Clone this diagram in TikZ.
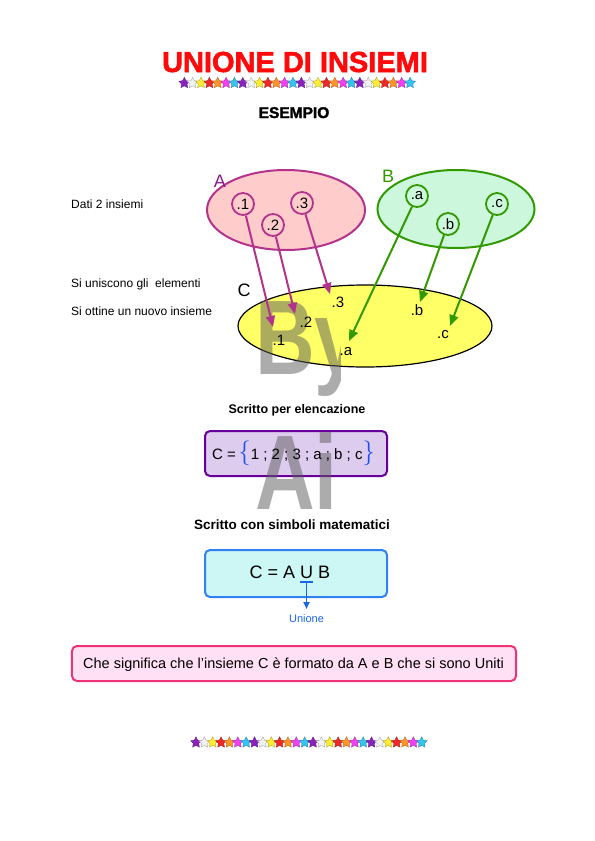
\documentclass[tikz,border=0pt]{standalone}
\usepackage{fontspec}
\setmainfont{Liberation Sans}
\newfontfamily\heavyfont[FakeBold=2]{Liberation Sans Bold}
\usepackage{tikz}
\usetikzlibrary{shapes.geometric, arrows.meta, positioning}

\definecolor{titlered}{HTML}{FF0A0A}
\definecolor{setApink}{HTML}{FFCCCC}
\definecolor{setAline}{HTML}{B3338C}
\definecolor{labApurple}{HTML}{8B1A8B}
\definecolor{setBgreen}{HTML}{CCF7DC}
\definecolor{setBline}{HTML}{339900}
\definecolor{setCyellow}{HTML}{FFFF66}
\definecolor{boxlilac}{HTML}{DDCCEE}
\definecolor{boxviolet}{HTML}{660099}
\definecolor{boxcyan}{HTML}{CCF7F5}
\definecolor{boxblue}{HTML}{3380F0}
\definecolor{boxpink}{HTML}{FFE0F4}
\definecolor{boxrose}{HTML}{EE3377}
\definecolor{braceblue}{HTML}{1E50F0}
\definecolor{uniblue}{HTML}{1A66E6}
\definecolor{wmgray}{HTML}{5A5A5A}
\definecolor{stpurple}{HTML}{8A22C0}
\definecolor{stwhite}{HTML}{F2F2F2}
\definecolor{styellow}{HTML}{FFEE33}
\definecolor{stred}{HTML}{F02828}
\definecolor{storange}{HTML}{FF9428}
\definecolor{stmagenta}{HTML}{F040F0}
\definecolor{stcyan}{HTML}{33C4F0}

\newcommand{\fsz}[1]{\fontsize{#1bp}{#1bp}\selectfont}
\newcommand{\bluebrace}[1]{{\color{braceblue}\fsz{23}$#1$}}

\tikzset{
  starmark/.style={star, star points=5, star point ratio=2.0, minimum size=11.5bp, inner sep=0pt, line width=0.3bp},
  plain/.style={inner sep=0pt, font=\fsz{12}},
  setA/.style={ellipse, draw=setAline, fill=setApink, line width=2bp, minimum width=158bp, minimum height=80bp},
  setB/.style={ellipse, draw=setBline, fill=setBgreen, line width=2bp, minimum width=157bp, minimum height=78bp},
  setC/.style={ellipse, draw=black, fill=setCyellow, line width=1.2bp, minimum width=254bp, minimum height=82bp},
  elemA/.style={circle, draw=setAline, fill=setApink, line width=1.8bp, minimum size=22bp, inner sep=0pt, font=\fsz{15}},
  elemB/.style={circle, draw=setBline, fill=setBgreen, line width=1.8bp, minimum size=22bp, inner sep=0pt, font=\fsz{15}},
  elemC/.style={inner sep=0pt, font=\fsz{15}},
  arrA/.style={draw=setAline, line width=2bp, -{Triangle[length=11bp,width=9bp]}},
  arrB/.style={draw=setBline, line width=2bp, -{Triangle[length=11bp,width=9bp]}},
  roundbox/.style={rectangle, rounded corners=5bp, line width=2bp},
  wmark/.style={inner sep=0pt, font=\bfseries\fsz{106}, text=wmgray, opacity=0.5, xscale=0.78}
}

\begin{document}
\begin{tikzpicture}[x=1bp, y=-1bp]
  \useasboundingbox (0,0) rectangle (595,841);

  \node[anchor=base, inner sep=0pt, font=\heavyfont\fsz{29}, text=titlered] (title) at (295,72) {UNIONE DI INSIEMI};
  \def\xstep{8.36}
  \foreach \r in {0,...,3}
    \foreach \c [count=\j from 0] in {stpurple,stwhite,styellow,stred,storange,stmagenta,stcyan}
    {
      \node[starmark, fill=\c, draw=\c!65!black] (ts-\r-\j) at ({184.3+\xstep*(7*\r+\j)},83) {};
      \node[starmark, fill=\c, draw=\c!65!black] (bs-\r-\j) at ({196+\xstep*(7*\r+\j)},742.5) {};
    }
  \node[anchor=base, inner sep=0pt, font=\heavyfont\fsz{15.5}] (esempio) at (294,118) {ESEMPIO};

  \node[plain, anchor=base west] (dati) at (71,208) {Dati 2 insiemi};
  \node[plain, anchor=base west] (unisc) at (71,287) {Si uniscono gli~ elementi};
  \node[plain, anchor=base west] (ottine) at (71,315) {Si ottine un nuovo insieme};

  \node[setA] (A) at (286,210) {};
  \node[font=\fsz{18}, text=labApurple, inner sep=0pt] (labA) at (220,181) {A};
  \node[elemA] (a1) at (243,204) {.1};
  \node[elemA] (a2) at (273,225) {.2};
  \node[elemA] (a3) at (302,203) {.3};

  \node[setB] (B) at (456,209) {};
  \node[font=\fsz{18}, text=setBline, inner sep=0pt] (labB) at (388,176) {B};
  \node[elemB] (ba) at (417,196) {.a};
  \node[elemB] (bb) at (448,224) {.b};
  \node[elemB] (bc) at (497,204) {.c};

  \node[setC] (C) at (365,326) {};
  \node[roundbox, draw=boxviolet, fill=boxlilac, minimum width=182bp, minimum height=45bp] (elenco) at (296,453.5) {};
  \node[roundbox, draw=boxblue, fill=boxcyan, minimum width=182bp, minimum height=47bp] (simboli) at (296,573.5) {};
  \node[roundbox, draw=boxrose, fill=boxpink, minimum width=444bp, minimum height=35bp] (nota) at (294,663.5) {};

  \begin{scope}
    \clip (250,285) rectangle (340,520);
    \node[wmark, anchor=base west] (wmby) at (255,374) {By};
    \node[wmark, anchor=base west] (wmai) at (255,509) {Ai};
  \end{scope}

  \node[font=\fsz{18}, inner sep=0pt] (labC) at (244,290) {C};
  \node[elemC] (c3) at (338,302) {.3};
  \node[elemC] (c2) at (306,322) {.2};
  \node[elemC] (c1) at (279,340) {.1};
  \node[elemC] (ca) at (346,352) {.a};
  \node[elemC] (cb) at (417,310) {.b};
  \node[elemC] (cc) at (443,335) {.c};

  \coordinate (p1) at (273,327);
  \coordinate (p2) at (295,314);
  \coordinate (p3) at (330,294);
  \coordinate (pa) at (349,341);
  \coordinate (pb) at (420,302);
  \coordinate (pc) at (450,326);
  \draw[arrA] (a1) -- (p1);
  \draw[arrA] (a2) -- (p2);
  \draw[arrA] (a3) -- (p3);
  \draw[arrB] (ba) -- (pa);
  \draw[arrB] (bb) -- (pb);
  \draw[arrB] (bc) -- (pc);

  \node[anchor=base, inner sep=0pt, font=\bfseries\fsz{12.5}] (perelenc) at (297,413) {Scritto per elencazione};
  \node[anchor=base west, inner sep=0pt, font=\fsz{15}] (elencotxt) at (212,459)
    {C =\,\bluebrace{\{}1 ; 2 ; 3 ; a ; b ; c\bluebrace{\}}};

  \node[anchor=base, inner sep=0pt, font=\bfseries\fsz{13.5}] (consimb) at (292,529) {Scritto con simboli matematici};
  \node[anchor=base, inner sep=0pt, font=\fsz{18}] (simbtxt) at (290,578) {C = A U B};
  \coordinate (ubar) at (306.5,582);
  \draw[uniblue, line width=2bp] ([xshift=-6.5bp]ubar) -- ([xshift=6.5bp]ubar);
  \node[anchor=north, inner sep=1bp, font=\fsz{11}, text=uniblue] (unione) at (306.5,613) {Unione};
  \draw[uniblue, line width=1.6bp, -{Triangle[length=7bp,width=6bp]}, shorten >=4bp] (ubar) -- (unione);

  \node[anchor=base west, inner sep=0pt, font=\fsz{14.5}] (notatxt) at (83,668)
    {Che significa che l'insieme C è formato da A e B che si sono Uniti};
\end{tikzpicture}
\end{document}
